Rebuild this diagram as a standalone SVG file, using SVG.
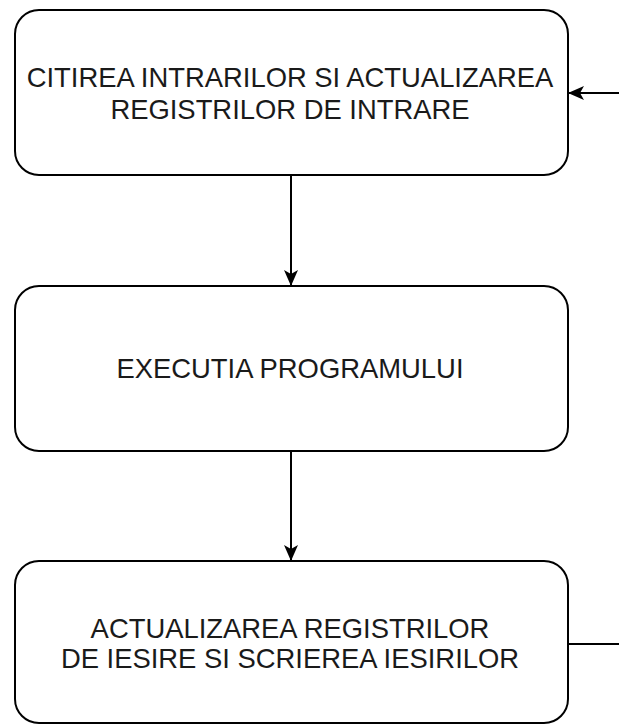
<svg xmlns="http://www.w3.org/2000/svg" width="619" height="725" viewBox="0 0 619 725">
  <defs>
    <style>
      .box { fill: #ffffff; stroke: #000000; stroke-width: 2; }
      .edge { fill: none; stroke: #000000; stroke-width: 2; }
      .label { font-family: "Liberation Sans", Arial, sans-serif; font-size: 27.4px; fill: #1a1a1a; text-anchor: middle; }
    </style>
    <marker id="arrow" viewBox="0 0 16 14" refX="15" refY="7" markerWidth="16" markerHeight="14" markerUnits="userSpaceOnUse" orient="auto">
      <path d="M0,0 L16,7 L0,14 L4,7 Z" fill="#000000"/>
    </marker>
  </defs>
  <rect width="619" height="725" fill="#ffffff"/>

  <g id="connectors">
    <line class="edge" x1="291" y1="175" x2="291" y2="285" marker-end="url(#arrow)"/>
    <line class="edge" x1="291" y1="451" x2="291" y2="560" marker-end="url(#arrow)"/>
    <line class="edge" x1="619" y1="93" x2="569" y2="93" marker-end="url(#arrow)"/>
    <line class="edge" x1="568" y1="644" x2="619" y2="644"/>
  </g>

  <g id="read-inputs">
    <rect class="box" x="15" y="10" width="553" height="165" rx="24" ry="24"/>
    <text class="label" x="290" y="86.5">CITIREA INTRARILOR SI ACTUALIZAREA</text>
    <text class="label" x="290" y="119">REGISTRILOR DE INTRARE</text>
  </g>

  <g id="execute-program">
    <rect class="box" x="15" y="286" width="553" height="165" rx="24" ry="24"/>
    <text class="label" x="290" y="378">EXECUTIA PROGRAMULUI</text>
  </g>

  <g id="write-outputs">
    <rect class="box" x="15" y="561" width="553" height="162" rx="24" ry="24"/>
    <text class="label" x="290" y="638">ACTUALIZAREA REGISTRILOR</text>
    <text class="label" x="290" y="668">DE IESIRE SI SCRIEREA IESIRILOR</text>
  </g>
</svg>
